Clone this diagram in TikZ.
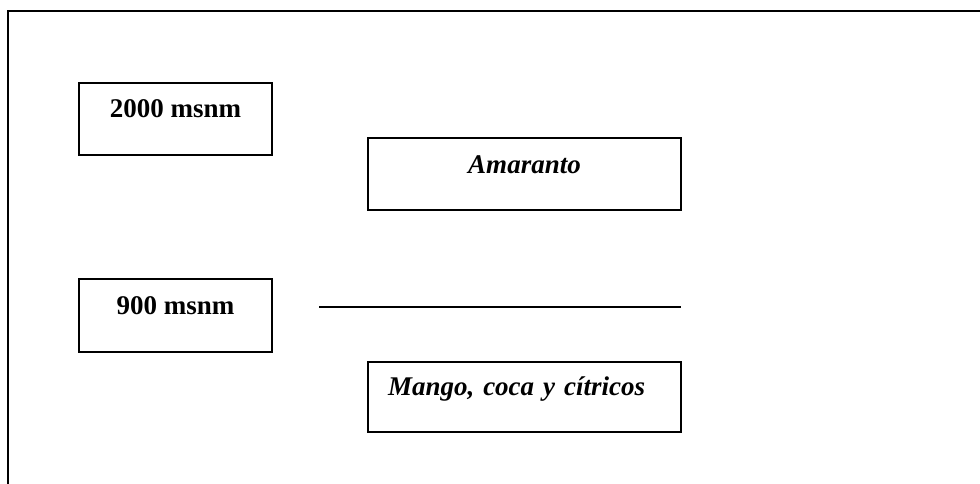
\documentclass[tikz,border=0pt]{standalone}
\usepackage{fontspec}
\setmainfont{Liberation Serif}
\begin{document}
\begin{tikzpicture}[x=1pt,y=-1pt,
  altbox/.style={draw=black,line width=1.7pt,rectangle,inner sep=0pt,
    font=\fontsize{27}{30}\selectfont\bfseries},
  cropbox/.style={altbox,font=\fontsize{27}{30}\selectfont\bfseries\itshape}]
\useasboundingbox (0,0) rectangle (980,484);
% page frame (top and left edges)
\draw[line width=2.3pt] (8,486) -- (8,11) -- (982,11);
% altitude labels
\node[altbox,minimum width=193pt,minimum height=72pt,text height=35pt,text depth=37pt]
  (alt2000) at (175.5,119) {2000 msnm};
\node[altbox,minimum width=193pt,minimum height=73pt,text height=35pt,text depth=38pt]
  (alt900) at (175.5,315.5) {900 msnm};
% crops
\node[cropbox,minimum width=313pt,minimum height=72pt,text height=35pt,text depth=37pt]
  (amaranto) at (524.5,174) {Amaranto};
\node[cropbox,minimum width=313pt,minimum height=70pt,text height=33pt,text depth=37pt,
  text width=273pt,inner xsep=20pt,align=left]
  (mango) at (524.5,397) {Mango, coca y cítricos};
% boundary line
\coordinate (l1) at (319,306.5);
\coordinate (l2) at (681,306.5);
\draw[line width=2pt] (l1) -- (l2);
\end{tikzpicture}
\end{document}
